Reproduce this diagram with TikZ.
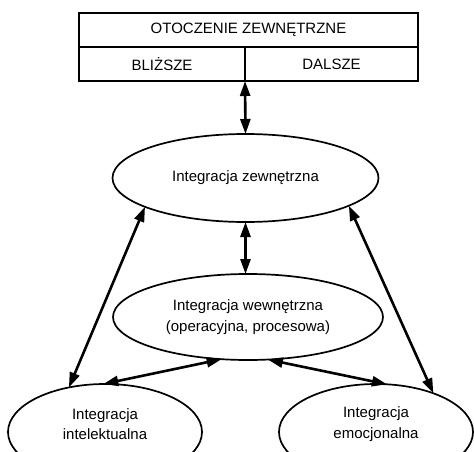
\documentclass[tikz,border=0pt]{standalone}
\usepackage{fontspec}
\setmainfont{Liberation Sans}
\usetikzlibrary{shapes.geometric,arrows.meta}
\begin{document}
\begin{tikzpicture}[x=1pt,y=-1pt,
  every node/.style={font=\fontsize{15}{20.5}\selectfont},
  oval/.style={ellipse,draw,line width=1.7pt,inner sep=0pt,outer sep=0pt},
  link/.style={line width=2.6pt,{Triangle[length=15pt,width=10pt]}-{Triangle[length=15pt,width=10pt]}},
  frame/.style={draw,line width=1.6pt,minimum height=34pt,inner sep=0pt,outer sep=0pt}]
\useasboundingbox (0,0) rectangle (474,452);
\clip (0,0) rectangle (474,452);
% top box
\node[frame,minimum width=339pt] (env) at (248.5,30) {OTOCZENIE ZEWNĘTRZNE};
\node[frame,minimum width=166pt] (near) at (162,64) {BLIŻSZE};
\node[frame,minimum width=173pt] (far) at (331.5,64) {DALSZE};
% ellipses
\node[oval,minimum width=266pt,minimum height=88pt] (ext) at (245.5,178) {Integracja zewnętrzna};
\node[oval,minimum width=270pt,minimum height=86pt,align=center] (int) at (248,317) {Integracja wewnętrzna\\(operacyjna, procesowa)};
\node[oval,minimum width=194pt,minimum height=96pt] (intel) at (105,432) {};
\node[oval,minimum width=194pt,minimum height=96pt] (emo) at (376,432) {};
\node[align=center] (intelt) at (105,424) {Integracja\\intelektualna};
\node[align=center] (emot) at (376,424) {Integracja\\emocjonalna};
% connectors
\draw[link] (near.south east) -- (ext.north);
\draw[link] (ext.south) -- (ext.south |- int.north);
\draw[link] (ext.196.9) -- (intel.129.4);
\draw[link] (ext.345.2) -- (emo.34);
\draw[link] (int.238.4) -- (intel.92);
\draw[link] (int.295.2) -- (emo.77);
\end{tikzpicture}
\end{document}
